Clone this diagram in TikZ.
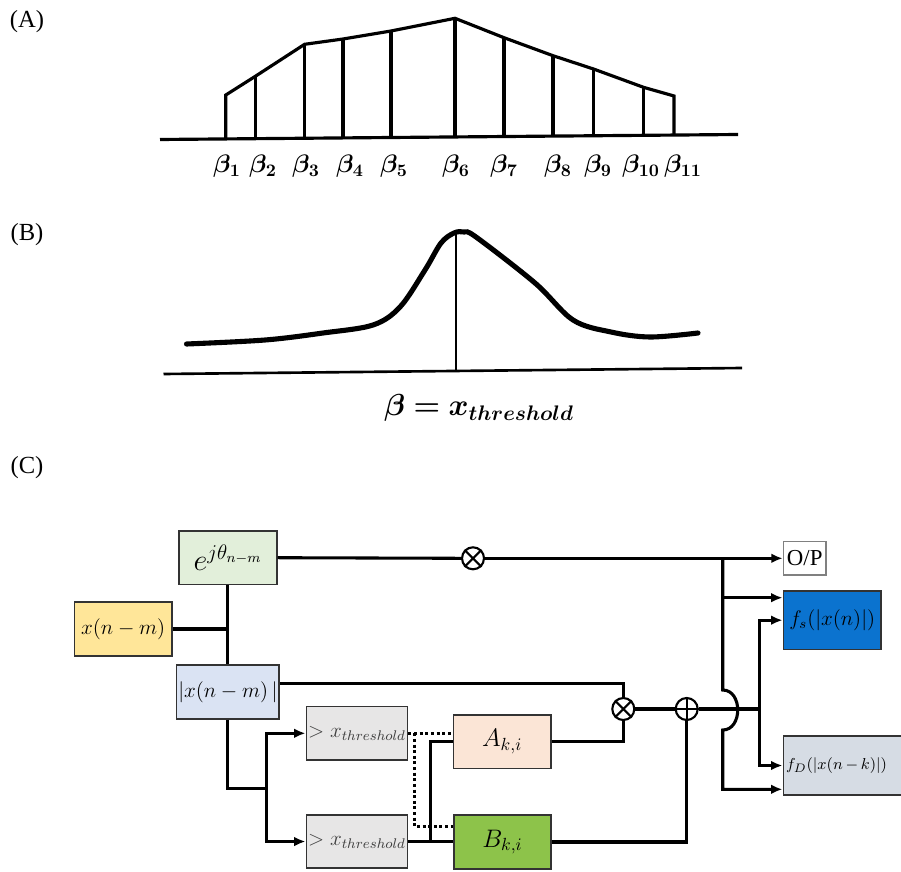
\documentclass[tikz,border=0pt]{standalone}
\usepackage[no-math]{fontspec}
\setmainfont{Liberation Serif}
\usepackage{amsmath,bm}
\usetikzlibrary{arrows.meta,calc}
\definecolor{phasegreen}{HTML}{E2EFDA}
\definecolor{inyellow}{HTML}{FFE699}
\definecolor{maglav}{HTML}{DAE3F3}
\definecolor{thgray}{HTML}{E7E6E6}
\definecolor{apeach}{HTML}{FBE5D6}
\definecolor{bgreen}{HTML}{8DC34A}
\definecolor{fsblue}{HTML}{0B73CF}
\definecolor{fdgray}{HTML}{D6DCE4}
\begin{document}
\begin{tikzpicture}[x=0.02cm,y=-0.02cm,
  wire/.style={line width=1.75pt},
  sig/.style={wire,-{Latex[length=6.5pt,width=5.5pt]}},
  dots/.style={line width=1.7pt,dash pattern=on 1.7pt off 1.5pt},
  blk/.style={draw=black!80,line width=1pt,minimum width=1.95cm,minimum height=1.07cm,inner sep=1pt,font=\fontsize{11.5}{13}\selectfont},
  op/.style={draw,circle,line width=1.2pt,minimum size=0.44cm,inner sep=0pt},
  tag/.style={font=\fontsize{14}{16}\selectfont}]
\useasboundingbox (0,0) rectangle (901,871);
% (A) weights over the beta grid
\node[tag] (lA) at (27,22) {(A)};
\draw[line width=1.8pt] (160,139.5) -- (738,134.5);
\draw[line width=1.8pt,line join=miter] (225.8,138.9) -- (225.8,95) -- (255.8,76) -- (304.6,44.3) -- (343,39) -- (391,31) -- (455,18.3)
  -- (504,37.7) -- (553,55.7) -- (593.5,69) -- (643.5,87.3) -- (674,96) -- (674,135.1);
\foreach \x/\t/\b in {255.8/76/138.7,304.6/44.3/138.2,343/39/137.9,391/31/137.5,455/18.3/137,
  504/37.7/136.5,553/55.7/136.1,593.5/69/135.8,643.5/87.3/135.3} {
  \draw[line width=1.8pt] (\x,\t) -- (\x,\b);}
\foreach \lx [count=\k] in {227,263,306,350,394,456,504,558,598,641,683} {
  \node[font=\fontsize{14}{16}\selectfont] (b\k) at (\lx,166) {$\bm{\beta_{\k}}$};}
% (B) threshold curve
\node[tag] (lB) at (27,235) {(B)};
\draw[line width=1.5pt] (163.5,374) -- (742,368);
\draw[line width=2.9pt,line cap=round] plot[smooth,tension=0.55] coordinates {(186.5,344) (265,340) (323,333) (373,325) (400,307)
  (425,270) (441,243) (454,233) (464,232) (476,237) (535,283) (573,320) (611,332) (650,337) (698,333)};
\draw[line width=1.2pt] (455.8,234) -- (455.8,371);
\node[font=\fontsize{17}{20}\selectfont] (thr) at (479,408) {$\bm{\beta = x_{threshold}}$};
% (C) block diagram
\node[tag] (lC) at (27,468) {(C)};
\node[blk,fill=phasegreen,font=\fontsize{17}{19}\selectfont] (phase) at (227.9,557.7) {$e^{j\theta_{n-m}}$};
\node[blk,fill=inyellow] (xin) at (123.2,629) {$x(n-m)$};
\node[blk,fill=maglav] (absx) at (227.9,692) {$|x(n-m)\,|$};
\node[blk,fill=thgray,text=black!75] (th1) at (357,733.3) {$>x_{threshold}$};
\node[blk,fill=thgray,text=black!75] (th2) at (357,841.5) {$>x_{threshold}$};
\node[blk,fill=apeach,font=\fontsize{14}{16}\selectfont] (ak) at (502.2,741.7) {$A_{k,i}$};
\node[blk,fill=bgreen,font=\fontsize{14}{16}\selectfont] (bk) at (502.5,842) {$B_{k,i}$};
\node[op] (mulT) at (473,558.3) {};
\node[op] (mul) at (623.3,709) {};
\node[op] (add) at (686.7,709) {};
\node[draw=black!50,line width=0.8pt,minimum width=0.85cm,minimum height=0.67cm,inner sep=1pt,font=\fontsize{13}{15}\selectfont] (out) at (804.7,558.3) {O/P};
\node[blk,fill=fsblue,minimum height=1.17cm] (fs) at (832.2,620.2) {$f_s(|x(n)|)$};
\node[blk,fill=fdgray,minimum height=1.18cm,inner xsep=1.5pt,text width=2.76cm,align=left,font=\fontsize{9.5}{11}\selectfont] (fd) at (855,765.5) {$f_D(|x(n\,{-}\,k)|)$};
\foreach \o in {mulT,mul} {
  \draw[line width=1.2pt] (\o.north west) -- (\o.south east) (\o.north east) -- (\o.south west);}
\draw[line width=1.2pt] (add.north) -- (add.south) (add.west) -- (add.east);
\coordinate (busT) at (722.7,558.3);
\coordinate (hopT) at (722.7,690);
\coordinate (hopB) at (722.7,730);
\coordinate (split) at (759.3,709);
\coordinate (fork) at (266.7,788.3);
\coordinate (fsA) at ($(fs.west)+(0,-22.5)$);
\coordinate (fdB) at ($(fd.west)+(0,23.8)$);
\coordinate (tap) at ($(th2.east)!0.5!(th2.east -| bk.west)$);
% phase path
\draw[wire] (phase.south) -- (absx.north);
\draw[wire] (xin.east) -- (xin.east -| phase.south);
\draw[wire] (phase.east) -- (mulT.west);
\draw[sig] (mulT.east) -- (out.west);
\draw[sig] (busT |- fsA) -- (fsA);
\draw[sig] (busT) -- (hopT) .. controls +(20,0) and +(20,0) .. (hopB) |- (fdB);
% magnitude path
\draw[wire] ($(absx.east)+(0,-8.7)$) -| (mul.north);
\draw[wire] (absx.south) |- (fork);
\draw[sig] (fork) |- (th1.west);
\draw[sig] (fork) |- (th2.west);
\draw[wire] (th2.east) -- (th2.east -| bk.west);
\draw[wire] (tap) |- (ak.west);
\draw[dots] (th1.east) -- (th1.east -| ak.west);
\draw[dots] ($(th1.east)+(6,0)$) |- ($(bk.west)+(0,-15.6)$);
\draw[wire] (ak.east) -| (mul.south);
\draw[wire] (bk.east) -| (add.south);
\draw[wire] (mul.east) -- (add.west);
\draw[wire] (add.east) -- (split);
\draw[sig] (split) |- (fs.west);
\draw[sig] (split) |- (fd.west);
\end{tikzpicture}
\end{document}
